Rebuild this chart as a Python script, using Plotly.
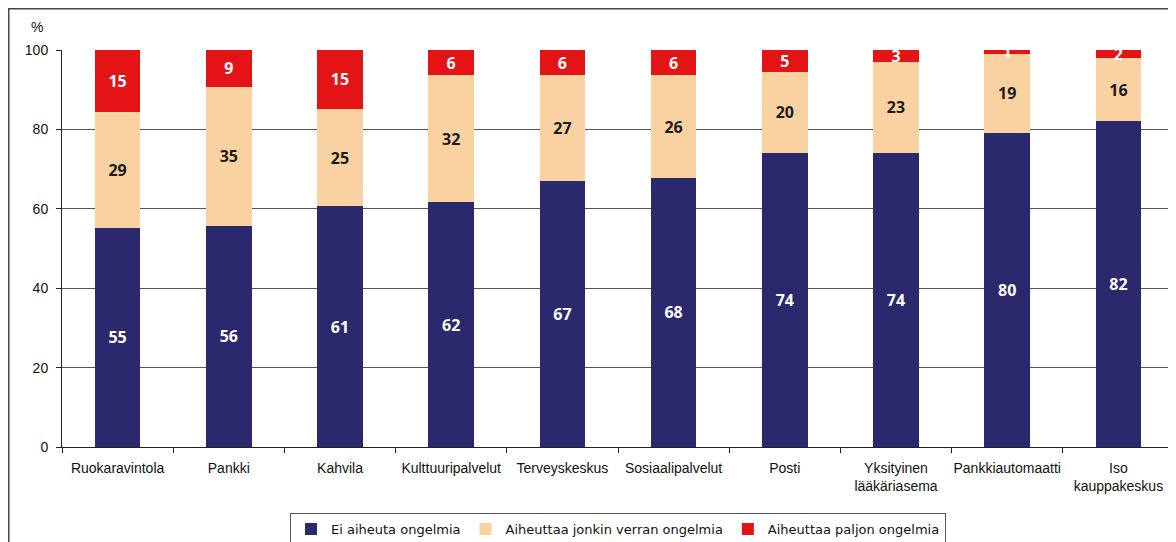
import plotly.graph_objects as go

categories = ["Ruokaravintola", "Pankki", "Kahvila", "Kulttuuripalvelut", "Terveyskeskus",
              "Sosiaalipalvelut", "Posti", "Yksityinen<br>lääkäriasema", "Pankkiautomaatti",
              "Iso<br>kauppakeskus"]

# bar heights
ei_ongelmia = [55.2, 55.7, 60.6, 61.6, 67.0, 67.8, 74.1, 74.1, 79.1, 82.1]
jonkin_verran = [29.3, 35.0, 24.6, 32.0, 26.6, 25.8, 20.4, 22.9, 20.0, 15.9]
paljon = [15.4, 9.3, 14.8, 6.4, 6.4, 6.4, 5.5, 3.0, 0.9, 2.0]

# printed labels
ei_labels = [55, 56, 61, 62, 67, 68, 74, 74, 80, 82]
jonkin_labels = [29, 35, 25, 32, 27, 26, 20, 23, 19, 16]
paljon_labels = [15, 9, 15, 6, 6, 6, 5, 3, 1, 2]

series = [
    ("Ei aiheuta ongelmia", ei_ongelmia, ei_labels, "#2B286D", "white"),
    ("Aiheuttaa jonkin verran ongelmia", jonkin_verran, jonkin_labels, "#FAD1A0", "#1a1a1a"),
    ("Aiheuttaa paljon ongelmia", paljon, paljon_labels, "#E31316", "white"),
]

fig = go.Figure()
for name, vals, labels, color, tcolor in series:
    fig.add_trace(go.Bar(
        x=categories, y=vals, name=name,
        marker=dict(color=color, line=dict(width=0)),
        text=[str(v) for v in labels],
        textposition="inside", insidetextanchor="middle",
        textangle=0, constraintext="none",
        textfont=dict(family="Open Sans", size=16, color=tcolor, weight="bold"),
    ))

# page body has an 8px margin, so the figure is 8px smaller than the window
fig.update_layout(
    width=1168, height=534,
    barmode="stack", bargap=0.59,
    paper_bgcolor="white", plot_bgcolor="white",
    margin=dict(l=54, r=2, t=42, b=95, autoexpand=False),
    font=dict(family="Liberation Sans, Arial", size=14, color="#111"),
    uniformtext=dict(mode="show", minsize=16),
    showlegend=True,
    legend=dict(orientation="h", traceorder="normal",
                x=0.5, xanchor="center", yref="container", y=0.054, yanchor="top",
                bordercolor="#555", borderwidth=1,
                font=dict(family="DejaVu Sans", size=13, color="#111"),
                itemwidth=30, tracegroupgap=0),
    xaxis=dict(showline=True, linecolor="#222", linewidth=1, automargin=False,
               ticks="outside", ticklen=5, tickcolor="#222", tickson="boundaries",
               tickangle=0, ticklabelstandoff=8, tickfont=dict(size=14), showgrid=False),
    yaxis=dict(range=[0, 100], dtick=20, showline=True, linecolor="#222", linewidth=1,
               automargin=False,
               ticks="outside", ticklen=5, tickcolor="#222", ticklabelstandoff=5,
               gridcolor="#555", gridwidth=1, tickfont=dict(size=14),
               zeroline=False),
    shapes=[dict(type="rect", xref="paper", yref="paper",
                 x0=-0.0479, x1=1.05, y0=-0.4, y1=1.104,
                 line=dict(color="#444", width=1.5), fillcolor="rgba(0,0,0,0)",
                 layer="below")],
    annotations=[dict(text="%", xref="paper", yref="paper", x=-0.0297, y=1.058,
                      xanchor="left", yanchor="middle", showarrow=False,
                      font=dict(size=14))],
)

fig.write_html("out.html")
